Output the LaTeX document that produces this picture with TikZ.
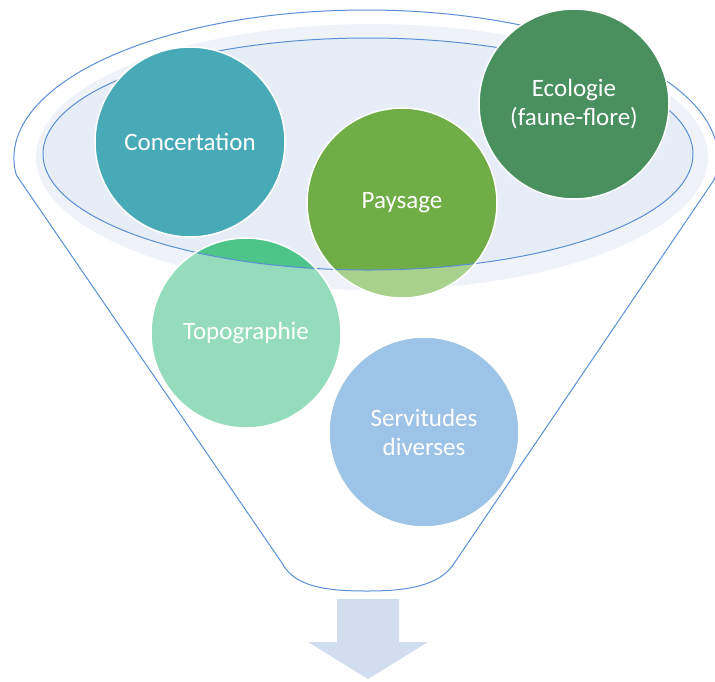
\documentclass[tikz,border=0pt]{standalone}
\usepackage{fontspec}
\setmainfont{Carlito}
\usepackage{tikz}

\definecolor{funnelblue}{HTML}{5B8FD5}
\definecolor{bandblue}{HTML}{EFF3F9}
\definecolor{innerblue}{HTML}{E6EDF7}
\definecolor{concert}{HTML}{48AAB6}
\definecolor{ecolo}{HTML}{4A8F5E}
\definecolor{paysdark}{HTML}{70AD47}
\definecolor{payslight}{HTML}{A9D18E}
\definecolor{topodark}{HTML}{4CC48A}
\definecolor{topolight}{HTML}{95DCBC}
\definecolor{servit}{HTML}{9DC3E6}
\definecolor{arrowblue}{HTML}{D2DEEF}

\begin{document}
\begin{tikzpicture}[x=1pt, y=-1pt, line width=1pt,
    bubble/.style={circle, minimum size=190pt, inner sep=0pt, draw=white,
        line width=1.5pt, text=white, align=center,
        font=\fontsize{25}{29}\selectfont}]
    \useasboundingbox (0, 0) rectangle (715, 681);

    % draw funnel outline
    \draw[color=funnelblue] (282, 563) -- (16.3, 175)
        arc[start angle=173.4, end angle=368.5, x radius=352, y radius=148]
        -- (455, 562) .. controls (440, 588) and (400, 591) .. (367, 591)
        .. controls (330, 591) and (295, 588) .. cycle;

    % draw rim band and inner ellipse
    \fill[bandblue] (372, 157) ellipse [x radius=336, y radius=133];
    \fill[innerblue] (368, 154) ellipse [x radius=325, y radius=116];

    % draw pale parts of the lower bubbles
    \fill[topolight] (246, 333) circle (95);
    \fill[payslight] (402, 203) circle (95);

    % draw strong parts inside the ellipse
    \begin{scope}
        \clip (368, 154) ellipse [x radius=325, y radius=116];
        \fill[topodark] (246, 333) circle (94.25);
        \fill[paysdark] (402, 203) circle (94.25);
    \end{scope}
    \draw[color=funnelblue] (368, 154) ellipse [x radius=325, y radius=116];

    % draw bubbles
    \node[bubble] (topo) at (246, 333) {Topographie};
    \node[bubble] (paysage) at (402, 203) {Paysage};
    \node[bubble, fill=concert] (concert) at (190, 142) {Concertation};
    \node[bubble, fill=ecolo] (ecolo) at (574, 104) {Ecologie\\(faune-flore)};
    \node[bubble, fill=servit] (servit) at (424, 432) {Servitudes\\diverses};

    % draw arrow
    \fill[arrowblue] (337, 599) -- (399, 599) -- (399, 642) -- (428, 642)
        -- (368, 679) -- (308, 642) -- (337, 642) -- cycle;
\end{tikzpicture}
\end{document}
